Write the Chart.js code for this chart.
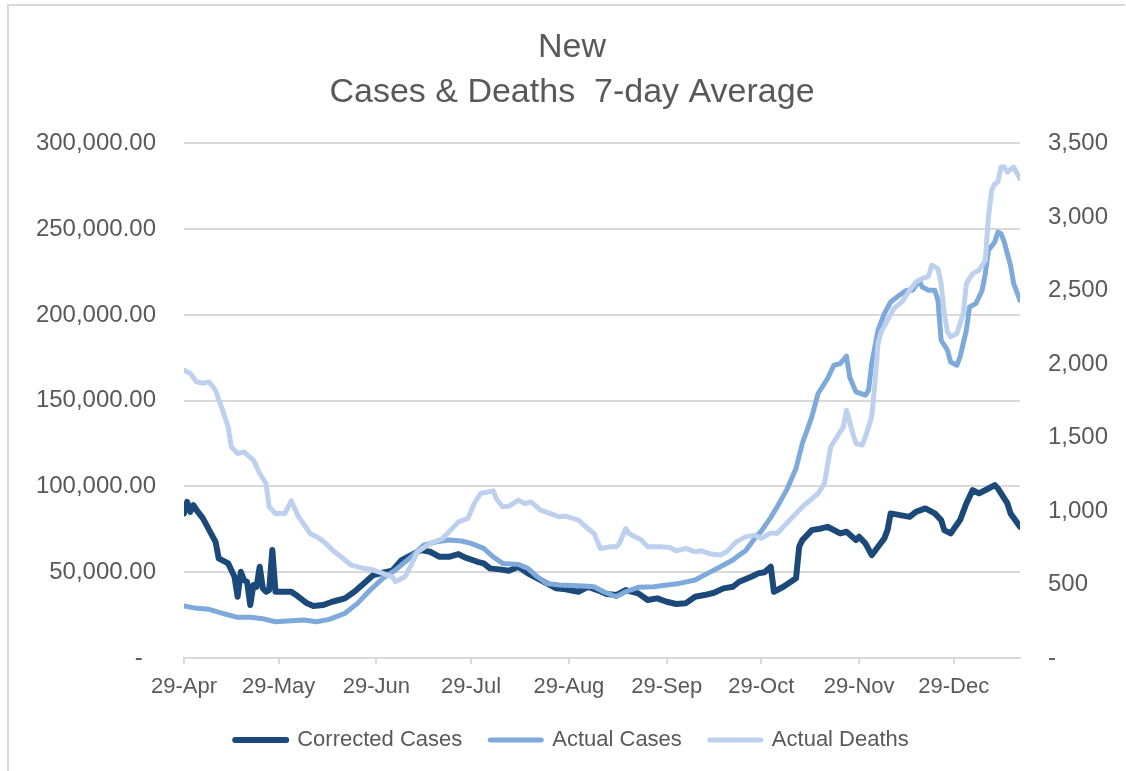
<!DOCTYPE html>
<html lang="en">
<head>
  <meta charset="UTF-8">
  <title>New Cases &amp; Deaths 7-day Average</title>
  <style>
    html, body { margin: 0; padding: 0; background: #fff; }
    #wrap { position: relative; width: 1126px; height: 771px; overflow: hidden; }
    /* grey chart frame, only top and left edges are visible */
    #frame { position: absolute; left: 7px; top: 4px; width: 1116px; height: 800px;
             border-top: 2px solid #d9d9d9; border-left: 2px solid #d9d9d9; }
    canvas { position: absolute; left: 0; top: 0; }
  </style>
  <script src="https://cdn.jsdelivr.net/npm/chart.js"></script>
</head>
<body>
  <div id="wrap">
    <div id="frame"></div>
    <canvas id="chart" width="1126" height="771"></canvas>
  </div>
  <script>
    // x = days since 29-Apr
    const tickDays = [0, 30, 61, 91, 122, 153, 183, 214, 244];
    const tickLabels = ['29-Apr', '29-May', '29-Jun', '29-Jul', '29-Aug', '29-Sep', '29-Oct', '29-Nov', '29-Dec'];
    const titleLines = ['New', 'Cases & Deaths  7-day Average'];

    const correctedDays = [0, 1, 2, 3, 4, 6, 8, 10, 11, 14,
      15, 16, 17, 18, 19, 20, 21, 22, 23, 24,
      25, 26, 27, 28, 29, 34, 36, 39, 41, 44,
      47, 51, 54, 57, 60, 63, 66, 69, 72, 75,
      78, 81, 84, 87, 89, 93, 95, 97, 100, 103,
      106, 109, 112, 115, 118, 121, 125, 128, 131, 134,
      137, 140, 144, 147, 150, 153, 156, 159, 162, 165,
      168, 171, 174, 176, 180, 182, 184, 186, 187, 190,
      194, 195, 196, 199, 202, 204, 208, 210, 213, 214,
      216, 218, 220, 222, 223, 224, 227, 230, 232, 235,
      238, 240, 241, 243, 246, 248, 250, 252, 255, 257,
      258, 259, 261, 262, 265];
    const correctedCases = [84290, 91040, 85210, 89110, 86210, 81370, 74560, 67740, 58070, 55160,
      51260, 47360, 35710, 50270, 45440, 44440, 30870, 42520, 41530, 53200,
      40600, 38620, 39610, 62910, 38620, 38620, 36110, 31860, 30290, 30870,
      32790, 34780, 38620, 43480, 48350, 49690, 50850, 57090, 60000, 62910,
      61940, 59000, 59000, 60580, 58650, 56090, 55160, 52250, 51670, 50850,
      53200, 49320, 46430, 43480, 40600, 40020, 38620, 41530, 39610, 37280,
      36700, 39610, 37670, 33790, 34780, 32790, 31460, 31860, 35710, 36700,
      38040, 40600, 41530, 44440, 47500, 49320, 50000, 53200, 38620, 41530,
      46430, 64870, 68740, 74560, 75530, 76500, 72620, 73590, 68740, 70680,
      66800, 60000, 64870, 69720, 74560, 84290, 83300, 82300, 85210, 87190,
      84290, 80390, 74560, 72620, 80390, 90110, 97860, 95920, 98830, 100780,
      98830, 95920, 90110, 84290, 76500];

    const actualDays = [0, 4, 8, 13, 17, 21, 25, 29, 34, 38,
      42, 46, 51, 55, 59, 63, 67, 72, 76, 80,
      84, 88, 91, 95, 98, 101, 106, 109, 112, 115,
      119, 125, 130, 133, 137, 140, 144, 149, 153, 157,
      162, 166, 170, 174, 176, 178, 181, 183, 186, 188,
      191, 194, 196, 199, 201, 204, 206, 208, 210, 211,
      213, 216, 217, 218, 220, 222, 224, 226, 229, 231,
      233, 234, 236, 238, 239, 240, 242, 243, 245, 246,
      248, 249, 251, 253, 254, 255, 257, 258, 259, 260,
      262, 263, 265];
    const actualCases = [30290, 28950, 28370, 25630, 23700, 23700, 22900, 21150, 21730, 22130,
      21150, 22540, 26040, 31860, 39610, 46430, 51260, 59000, 65820, 67740,
      68740, 68200, 66800, 63900, 59000, 55160, 54580, 52250, 47360, 43480,
      42520, 42100, 41530, 38620, 35710, 38620, 41180, 41530, 42520, 43480,
      45440, 49320, 53200, 57090, 60000, 62500, 70000, 74000, 82000, 88000,
      97860, 110490, 125050, 140560, 154190, 162930, 170680, 171660, 175920, 163860,
      155130, 153200, 156120, 171660, 191070, 200780, 207570, 210480, 214370, 214370,
      220190, 216300, 214370, 214370, 208540, 185240, 179420, 172590, 170680, 175530,
      191070, 204660, 206600, 214370, 224080, 237670, 242520, 248340, 247370, 242520,
      228930, 218250, 208540];

    const deathDays = [0, 2, 4, 6, 8, 10, 12, 14, 15, 17,
      19, 22, 24, 26, 27, 29, 32, 34, 36, 40,
      43, 45, 47, 51, 53, 57, 60, 63, 66, 67,
      70, 72, 74, 78, 82, 87, 90, 92, 94, 98,
      99, 101, 103, 106, 108, 110, 113, 116, 119, 121,
      125, 128, 130, 132, 135, 137, 138, 140, 141, 145,
      147, 151, 154, 156, 159, 162, 164, 167, 170, 172,
      175, 178, 181, 183, 186, 188, 192, 196, 201, 203,
      205, 207, 209, 210, 212, 213, 215, 216, 218, 219,
      220, 221, 223, 225, 228, 230, 232, 234, 236, 237,
      239, 240, 241, 242, 243, 245, 247, 248, 250, 252,
      254, 255, 256, 257, 258, 259, 260, 261, 263, 265];
    const actualDeaths = [1957, 1935, 1878, 1869, 1878, 1821, 1699, 1572, 1436, 1391,
      1402, 1346, 1255, 1187, 1028, 983, 983, 1069, 972, 847,
      813, 779, 734, 666, 632, 610, 598, 576, 553, 519,
      553, 632, 722, 779, 813, 926, 949, 1051, 1119, 1137,
      1085, 1028, 1033, 1074, 1051, 1062, 1006, 983, 960, 965,
      938, 881, 847, 745, 756, 756, 779, 881, 847, 802,
      756, 756, 752, 729, 745, 722, 729, 707, 700, 722,
      790, 824, 836, 813, 851, 847, 938, 1028, 1119, 1187,
      1436, 1504, 1572, 1685, 1527, 1459, 1448, 1504, 1640, 1867,
      2139, 2218, 2297, 2377, 2433, 2501, 2558, 2580, 2596, 2671,
      2648, 2546, 2342, 2218, 2184, 2207, 2342, 2546, 2614, 2637,
      2705, 2999, 3180, 3225, 3237, 3339, 3339, 3305, 3339, 3260];

    const GREY = '#595959';
    const GRID = '#d9d9d9';
    Chart.defaults.font.family = '"Liberation Sans", Arial, sans-serif';
    Chart.defaults.color = GREY;

    function zip(days, vals) {
      return days.map((d, i) => ({ x: d, y: vals[i] }));
    }

    function series(label, days, vals, color, width, axis, order) {
      return {
        label: label,
        data: zip(days, vals),
        yAxisID: axis,
        order: order,
        borderColor: color,
        backgroundColor: color,
        borderWidth: width,
        pointRadius: 0,
        tension: 0,
        borderJoinStyle: 'round',
        borderCapStyle: 'round'
      };
    }

    const ctx = document.getElementById('chart').getContext('2d');
    new Chart(ctx, {
      type: 'line',
      data: {
        datasets: [
          series('Corrected Cases', correctedDays, correctedCases, '#1b4a7a', 6, 'y', 2),
          series('Actual Cases', actualDays, actualCases, '#7eaadb', 5, 'y', 1),
          series('Actual Deaths', deathDays, actualDeaths, '#bdd1ee', 5, 'y1', 0)
        ]
      },
      options: {
        responsive: false,
        animation: false,
        layout: { padding: { left: 36, right: 18, top: 0, bottom: 10 } },
        plugins: {
          title: {
            display: true,
            text: titleLines,
            color: GREY,
            font: { size: 34, weight: 'normal', lineHeight: 1.3 },
            padding: { top: 26, bottom: 29 }
          },
          legend: {
            position: 'bottom',
            labels: {
              boxWidth: 51,
              boxHeight: 0,
              padding: 28,
              color: GREY,
              font: { size: 22 },
              sort: (a, b) => a.datasetIndex - b.datasetIndex
            }
          },
          tooltip: { enabled: false }
        },
        scales: {
          x: {
            type: 'linear',
            min: 0,
            max: 265,
            afterBuildTicks: s => { s.ticks = tickDays.map(v => ({ value: v })); },
            afterFit: s => { s.height = 43; },
            ticks: {
              autoSkip: false,
              maxRotation: 0,
              padding: 10,
              font: { size: 22 },
              callback: v => tickLabels[tickDays.indexOf(v)]
            },
            grid: { drawOnChartArea: false, drawTicks: true, tickLength: 6, color: GRID, lineWidth: 2 },
            border: { color: GRID, width: 2 }
          },
          y: {
            position: 'left',
            min: 0,
            max: 300000,
            afterFit: s => { s.width = 148; },
            ticks: {
              stepSize: 50000,
              padding: 28,
              font: { size: 24 },
              callback: v => v === 0 ? '-  ' :
                Number(v).toLocaleString('en-US', { minimumFractionDigits: 2, maximumFractionDigits: 2 })
            },
            grid: { color: GRID, lineWidth: 2, drawTicks: false },
            border: { display: false }
          },
          y1: {
            position: 'right',
            min: 0,
            max: 3500,
            afterFit: s => { s.width = 88; },
            ticks: {
              stepSize: 500,
              padding: 28,
              font: { size: 24 },
              callback: v => v === 0 ? '-' : Number(v).toLocaleString('en-US')
            },
            grid: { drawOnChartArea: false, drawTicks: false },
            border: { display: false }
          }
        }
      }
    });
  </script>
</body>
</html>
